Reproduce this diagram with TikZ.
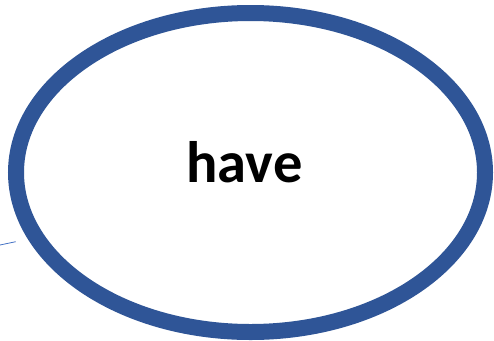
\documentclass[tikz,border=0pt]{standalone}
\usepackage{fontspec}
\setmainfont{Carlito}
\usetikzlibrary{arrows.meta,shapes.geometric}
\definecolor{ringblue}{RGB}{47,85,151}
\definecolor{linkblue}{RGB}{68,114,196}
\tikzset{
  wordring/.style={ellipse,draw=ringblue,line width=16pt,fill=white,inner sep=0pt,
    minimum width=469pt,minimum height=319pt},
  wordtext/.style={inner sep=0pt,font=\fontsize{58.5}{62}\selectfont\bfseries},
  wordlink/.style={draw=linkblue,line width=0.8pt}
}

\begin{document}
\begin{tikzpicture}[>=Stealth,x=1pt,y=-1pt]
            \useasboundingbox (0,0) rectangle (494,340);
            \node[wordring] (ring) at (250.5,172.5) {};
            \node[wordtext,anchor=base] (have) at (244.5,182) {have};
            \coordinate (linkstart) at (0,245);
            \coordinate (linkend) at (15.7,241.7);
            \draw [wordlink] (linkstart) -- (linkend);
        \end{tikzpicture}
\end{document}
